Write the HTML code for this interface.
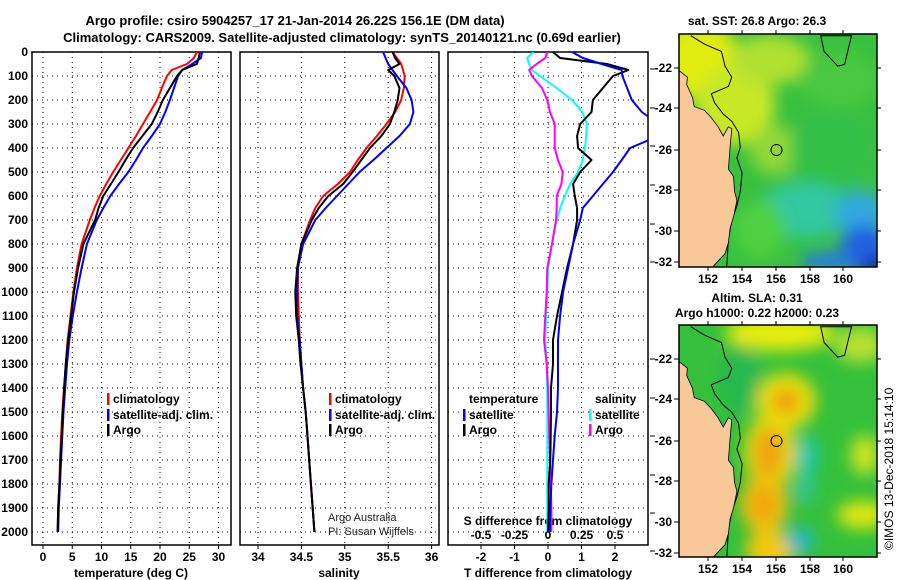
<!DOCTYPE html>
<html><head><meta charset="utf-8"><style>
html,body{margin:0;padding:0;background:#fff;width:900px;height:580px;overflow:hidden;}
svg{display:block;font-family:"Liberation Sans",sans-serif;}
.b{font-weight:bold;font-size:13px;}
.t{font-weight:bold;font-size:12px;}
</style></head><body>
<svg id="fig" width="900" height="580" viewBox="0 0 900 580" xmlns="http://www.w3.org/2000/svg">
<defs>
<clipPath id="c1"><rect x="32" y="52" width="199" height="493"/></clipPath>
<clipPath id="c2"><rect x="240" y="52" width="199" height="493"/></clipPath>
<clipPath id="c3"><rect x="448" y="52" width="200" height="493"/></clipPath>
<clipPath id="cm1"><rect x="679" y="34" width="198" height="233"/></clipPath>
<clipPath id="cm2"><rect x="679" y="325" width="198" height="232"/></clipPath>
<filter id="bl" x="-50%" y="-50%" width="200%" height="200%"><feGaussianBlur stdDeviation="8"/></filter>
</defs>
<text class="b" x="295" y="25" text-anchor="middle">Argo profile: csiro 5904257_17 21-Jan-2014 26.22S 156.1E (DM data)</text>
<text class="b" x="342" y="42" text-anchor="middle">Climatology: CARS2009. Satellite-adjusted climatology: synTS_20140121.nc (0.69d earlier)</text>
<g id="axes"></g>
<g id="maps"></g>
<text x="893" y="550" font-size="12" transform="rotate(-90 893 550)">©IMOS 13-Dec-2018 15:14:10</text>
</svg>
<script>
// ---------- data ----------
const depths=[0,25,50,75,100,150,200,250,300,350,400,450,500,550,600,650,700,800,900,1000,1100,1200,1300,1400,1500,1600,1700,1800,1900,2000];
const tempClim=[26.3,25.8,24.6,22.0,21.2,20.3,19.5,18.3,17.1,15.9,14.6,13.3,12.0,10.8,9.7,8.8,8.0,6.6,5.8,5.2,4.7,4.2,3.9,3.6,3.3,3.1,2.9,2.8,2.6,2.5];
const tempSat=[27.2,27.0,25.5,23.8,23.1,22.4,21.7,20.9,20.0,18.6,17.1,15.9,14.6,13.0,11.5,10.3,9.2,7.5,6.6,5.8,5.1,4.5,4.1,3.8,3.5,3.3,3.1,2.9,2.7,2.6];
const tempArgo=[26.8,26.6,26.3,23.8,22.9,21.7,20.5,19.6,18.6,17.0,15.4,14.1,12.9,11.6,10.3,9.5,8.9,6.9,6.0,5.3,4.8,4.3,3.9,3.6,3.4,3.2,3.0,2.8,2.6,2.5];
const salClim=[35.55,35.6,35.65,35.67,35.69,35.68,35.65,35.58,35.48,35.37,35.25,35.15,35.06,34.92,34.75,34.66,34.60,34.50,34.46,34.46,34.47,34.48,34.50,34.52,34.55,34.57,34.59,34.61,34.63,34.65];
const salSat=[35.44,35.47,35.5,35.55,35.6,35.71,35.77,35.79,35.75,35.63,35.48,35.33,35.17,35.04,34.91,34.78,34.66,34.52,34.46,34.45,34.45,34.48,34.50,34.52,34.55,34.57,34.59,34.61,34.63,34.65];
const salArgo=[35.55,35.58,35.63,35.5,35.57,35.63,35.61,35.57,35.52,35.42,35.29,35.19,35.09,34.98,34.81,34.70,34.62,34.50,34.45,34.43,34.44,34.47,34.49,34.52,34.55,34.57,34.59,34.61,34.63,34.65];
const dTSat=[0.72,1.04,1.6,2.2,2.22,2.36,2.5,2.8,3.3,3.3,2.45,2.2,1.94,1.64,1.34,1.04,0.96,0.75,0.6,0.45,0.36,0.3,0.3,0.3,0.27,0.2,0.15,0.1,0.07,0.05];
const dTArgo=[0.15,0.36,1.76,2.4,1.94,1.64,1.34,1.3,0.96,0.87,0.9,1.3,0.96,0.75,0.8,0.87,0.87,0.75,0.57,0.42,0.27,0.15,0.15,0.09,0.09,0.08,0.07,0.02,0.02,0.0];
const dSSat=[-0.11,-0.155,-0.14,-0.12,-0.06,0.065,0.18,0.255,0.29,0.285,0.275,0.26,0.225,0.165,0.125,0.09,0.065,0.03,0.0,-0.005,-0.015,-0.02,-0.01,-0.005,-0.005,-0.005,-0.005,-0.005,-0.005,-0.005];
const dSArgo=[-0.005,-0.02,-0.085,-0.14,-0.12,-0.045,-0.005,0.015,0.05,0.05,0.05,0.075,0.11,0.1,0.065,0.065,0.06,0.03,-0.005,-0.01,-0.02,-0.03,-0.01,0.0,0.005,0.01,0.015,0.02,0.025,0.025];
const depthTicks=[0,100,200,300,400,500,600,700,800,900,1000,1100,1200,1300,1400,1500,1600,1700,1800,1900,2000];
const tempTicks=[0,5,10,15,20,25,30];
const salTicks=[34,34.5,35,35.5,36];
const dTTicks=[-2,-1,0,1,2];
const dSTicks=[-0.5,-0.25,0,0.25,0.5];
const dSTickLabels=["-0.5","-0.25","0","0.25","0.5"];

// ---------- axes ----------
const yD=d=>52+d*0.24;
const xT=t=>43+t*5.85;
const xS=s=>258+(s-34)*86.8;
const xDT=d=>548+d*33.5;
const xDS=s=>548+s*134;
const NS="http://www.w3.org/2000/svg";
const root=document.getElementById('axes');
function mk(tag,attrs,parent){const e=document.createElementNS(NS,tag);for(const k in attrs)e.setAttribute(k,attrs[k]);(parent||root).appendChild(e);return e;}
function txt(x,y,s,cls,anchor,parent){const e=mk('text',{x:x,y:y,'class':cls||'t','text-anchor':anchor||'middle'},parent);e.textContent=s;return e;}

const panels=[{x0:32,x1:231,name:'temperature-panel'},{x0:240,x1:439,name:'salinity-panel'},{x0:448,x1:648,name:'difference-panel'}];
const gridX=[tempTicks.map(xT),salTicks.map(xS),dTTicks.map(xDT)];
panels.forEach((p,i)=>{
  const g=mk('g',{});
  
  
  depthTicks.forEach(d=>{const l=mk('line',{x1:p.x0,x2:p.x1,y1:yD(d),y2:yD(d),stroke:'#000','stroke-width':1,'stroke-dasharray':'1 4'},g);
    
    });
  gridX[i].forEach(x=>{const l=mk('line',{x1:x,x2:x,y1:52,y2:545,stroke:'#000','stroke-width':1,'stroke-dasharray':'1 4'},g);
    
    });
  const r=mk('rect',{x:p.x0,y:52,width:p.x1-p.x0,height:493,fill:'none',stroke:'#000','stroke-width':1.5},g);
  
  
  gridX[i].forEach(x=>{mk('line',{x1:x,x2:x,y1:545,y2:549,stroke:'#000'},g);});
});
depthTicks.forEach(d=>{const t=txt(28,yD(d)+4,String(d),'t','end');
  
  });
tempTicks.forEach(v=>{const t=txt(xT(v),561,String(v));
  
  });
salTicks.forEach(v=>{const t=txt(xS(v),561,String(v));
  
  });
dTTicks.forEach(v=>{const t=txt(xDT(v),561,String(v));
  
  });
dSTicks.forEach((v,i)=>{const t=txt(xDS(v),539,dSTickLabels[i]);
  
  });
let a=txt(131,577,'temperature (deg C)');
a=txt(339,577,'salinity');
a=txt(548,577,'T difference from climatology');
a=txt(548,525,'S difference from climatology');
[69,108,146,185,224,262,359,398,436,475,513,551].forEach(y=>mk('line',{x1:650,x2:655,y1:y,y2:y,stroke:'#000'}));

function series(vals,xf,color,clip,name,w){
  const pts=depths.map((d,i)=>xf(vals[i]).toFixed(1)+','+yD(d).toFixed(1)).join(' ');
  const l=mk('polyline',{points:pts,fill:'none',stroke:color,'stroke-width':w||2,'clip-path':'url(#'+clip+')','stroke-linejoin':'round'});
  
  
}
series(tempClim,xT,'#f00','c1','temperature-climatology-line');
series(tempSat,xT,'#00f','c1','temperature-satellite-line');
series(tempArgo,xT,'#000','c1','temperature-argo-line');
series(salClim,xS,'#f00','c2','salinity-climatology-line');
series(salSat,xS,'#00f','c2','salinity-satellite-line');
series(salArgo,xS,'#000','c2','salinity-argo-line');
series(dSSat,xDS,'#0ff','c3','s-diff-satellite-line');
series(dSArgo,xDS,'#f0f','c3','s-diff-argo-line');
series(dTArgo,xDT,'#000','c3','t-diff-argo-line');
series(dTSat,xDT,'#00f','c3','t-diff-satellite-line');

function legend(x,y,color,label,name){
  const g=mk('g',{});
  
  
  if(color) mk('rect',{x:x-6,y:y-10,width:2.5,height:12,fill:color},g);
  txt(x,y,label,'t','start',g);
}
legend(113,403,'#f00','climatology','legend-climatology');
legend(113,419,'#00f','satellite-adj. clim.','legend-satellite-adj');
legend(113,434,'#000','Argo','legend-argo');
legend(335,403,'#f00','climatology','legend-sal-climatology');
legend(335,419,'#00f','satellite-adj. clim.','legend-sal-satellite-adj');
legend(335,434,'#000','Argo','legend-sal-argo');
legend(469,403,null,'temperature','legend-temperature-header');
legend(469,419,'#00f','satellite','legend-t-satellite');
legend(469,434,'#000','Argo','legend-t-argo');
legend(595,403,null,'salinity','legend-salinity-header');
legend(595,419,'#0ff','satellite','legend-s-satellite');
legend(595,434,'#f0f','Argo','legend-s-argo');
a=mk('text',{x:328,y:521,'font-size':11,fill:'#222'});a.textContent='Argo Australia';
a=mk('text',{x:328,y:535,'font-size':11,fill:'#222'});a.textContent='PI: Susan Wijffels';

// ---------- maps ----------
const M=document.getElementById('maps');
const Z=(zx,zy)=>[660+zx/2.925,zy/2.72];
const landZ=[[0,190],[60,195],[80,210],[78,230],[95,265],[100,290],[130,300],[150,320],[170,345],[185,370],[200,345],[210,350],[205,400],[200,460],[215,480],[218,520],[225,545],[215,590],[205,620],[200,660],[190,690],[175,705],[160,720],[150,730],[0,730]];
const coastZ=[[90,97],[130,120],[180,140],[190,180],[210,210],[200,235],[150,255],[160,280],[185,310],[210,330],[230,360],[235,400],[225,430],[240,470],[235,520],[225,560],[210,600],[200,650],[195,730]];
const toPts=(arr,dy)=>arr.map(p=>{const q=Z(p[0],p[1]);return q[0].toFixed(1)+','+(q[1]+dy).toFixed(1);}).join(' ');
function map(top,h,clip,bg,blobs,title1,title2,name){
  const g=mk('g',{},M);
  
  
  const gc=mk('g',{'clip-path':'url(#'+clip+')'},g);
  mk('rect',{x:679,y:top,width:198,height:h,fill:bg},gc);
  const gb=mk('g',{filter:'url(#bl)'},gc);
  blobs.forEach(b=>mk('ellipse',{cx:b[0],cy:b[1],rx:b[2],ry:b[3],fill:b[4]},gb));
  const dy=top-34;
  mk('polygon',{points:toPts([[470,97],[480,140],[520,180],[540,175],[560,97]],dy),fill:'none',stroke:'#000','stroke-width':1},gc);
  mk('polyline',{points:toPts(coastZ,dy),fill:'none',stroke:'#000','stroke-width':1},gc);
  mk('polygon',{points:toPts(landZ,dy),fill:'#f8c898',stroke:'#000','stroke-width':0.8},gc);
  const c=mk('circle',{cx:776.5,cy:150+dy,r:5.5,fill:'none',stroke:'#000','stroke-width':1},g);
  
  
  mk('rect',{x:679,y:top,width:198,height:h,fill:'none',stroke:'#000','stroke-width':1.5},g);
  const lats=[-22,-24,-26,-28,-30,-32];
  const ly=[68,108,150,190,231,262];
  lats.forEach((l,i)=>{const y=ly[i]+dy;mk('line',{x1:674,x2:679,y1:y,y2:y,stroke:'#000'},g);mk('line',{x1:877,x2:881,y1:y,y2:y,stroke:'#000'},g);txt(672,y+4,String(l),'t','end',g);});
  [708,742,776,810,843].forEach((x,i)=>{mk('line',{x1:x,x2:x,y1:top+h,y2:top+h+4,stroke:'#000'},g);mk('line',{x1:x,x2:x,y1:top-4,y2:top,stroke:'#000'},g);txt(x,top+h+16,String(152+2*i),'t','middle',g);});
  if(title1) txt(757,25,title1,'t','middle',g);
  if(title2) txt(757,317,title2,'t','middle',g);
}
const sstBlobs=[[700,60,40,40,'#e0ec10'],[735,105,40,40,'#c8e828'],[770,60,40,25,'#b0e030'],[775,150,25,25,'#90d838'],[840,80,40,30,'#48c840'],[830,150,40,40,'#30c048'],[805,210,45,28,'#30c8a0'],[860,215,25,25,'#30a8e0'],[865,250,25,25,'#2060e0'],[830,262,30,10,'#2878e0'],[875,268,15,10,'#0818a0'],[760,230,25,30,'#50d040']];
map(34,233,'cm1','#38c040',sstBlobs,'sat. SST: 26.8  Argo: 26.3',null,'sst-map');
const slaBlobs=[[780,333,55,18,'#e8ec10'],[786,401,30,28,'#e8e010'],[786,401,15,13,'#f0a010'],[770,452,26,38,'#e8d810'],[769,452,14,24,'#f0a010'],[764,504,24,30,'#f0c010'],[763,504,12,14,'#f0a010'],[770,550,25,20,'#f0c810'],[807,456,11,20,'#20c8b0'],[805,489,9,14,'#30c8a8'],[800,540,14,12,'#20b8d0'],[862,515,25,14,'#e0e810'],[865,455,15,20,'#c8e420'],[860,345,25,18,'#b8e030'],[740,380,20,35,'#28b850']];
map(325,232,'cm2','#34c03c',slaBlobs,null,'Argo h1000: 0.22  h2000: 0.23','sla-map');
txt(757,302,'Altim. SLA: 0.31','t','middle',M);
</script>
</body></html>
